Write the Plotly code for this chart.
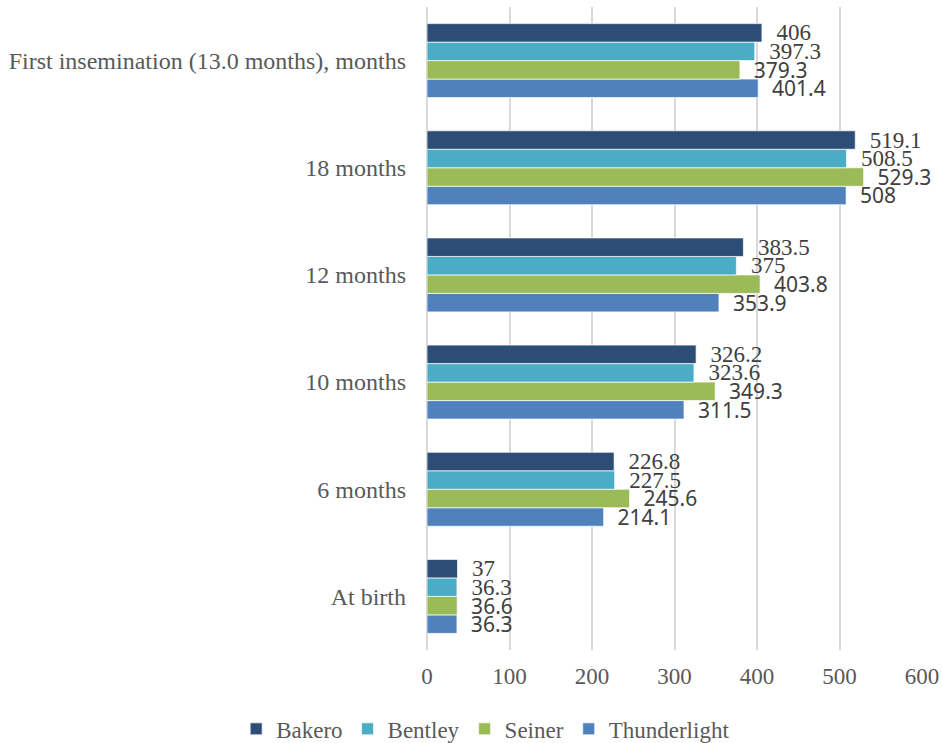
import plotly.graph_objects as go

categories = ["At birth", "6 months", "10 months", "12 months", "18 months",
              "First insemination (13.0 months), months"]
bakero = [37, 226.8, 326.2, 383.5, 519.1, 406]
bentley = [36.3, 227.5, 323.6, 375, 508.5, 397.3]
seiner = [36.6, 245.6, 349.3, 403.8, 529.3, 379.3]
thunderlight = [36.3, 214.1, 311.5, 353.9, 508, 401.4]
x_ticks = [0, 100, 200, 300, 400, 500, 600]

serif = "Liberation Serif, Times New Roman, serif"
sans = "Noto Sans, Open Sans, sans-serif"

series = [
    ("Thunderlight", thunderlight, "#4F81BD", sans, 21, 4),
    ("Seiner", seiner, "#9BBB59", sans, 21, 3),
    ("Bentley", bentley, "#4BACC6", serif, 23, 2),
    ("Bakero", bakero, "#2C4D75", serif, 23, 1),
]

fig = go.Figure()
for name, vals, color, font, fsize, rank in series:
    fig.add_trace(go.Bar(
        y=categories, x=vals, name=name, orientation="h",
        marker=dict(color=color, line=dict(color="rgba(255,255,255,0.7)", width=1)),
        text=[str(v) for v in vals],
        texttemplate="\u00a0\u00a0%{text}",
        textposition="outside", constraintext="none", cliponaxis=False,
        textfont=dict(family=font, size=fsize, color="#404040"),
        outsidetextfont=dict(family=font, size=fsize, color="#404040"),
        legendrank=rank,
    ))

fig.update_layout(
    width=943, height=743,
    margin=dict(l=427, r=21, t=7, b=93, autoexpand=False),
    paper_bgcolor="white", plot_bgcolor="white",
    barmode="group", bargap=0.31, bargroupgap=0,
    font=dict(family=serif, size=24, color="#595959"),
    legend=dict(orientation="h", xref="container", x=0.515, xanchor="center",
                yref="container", y=0.019, yanchor="middle",
                font=dict(family=serif, size=23, color="#595959"),
                itemwidth=30, traceorder="normal"),
    xaxis=dict(range=[0, 600], tickvals=x_ticks, showgrid=True,
               gridcolor="#D9D9D9", gridwidth=2, zeroline=True,
               zerolinecolor="#D9D9D9", zerolinewidth=2,
               showline=False, ticks="", ticklabelstandoff=10,
               tickfont=dict(family=serif, size=23, color="#595959")),
    yaxis=dict(type="category", categoryorder="array", categoryarray=categories,
               showgrid=False, showline=False, ticks="", ticklabelstandoff=20,
               tickfont=dict(family=serif, size=24, color="#595959")),
)

fig.write_html("out.html")
